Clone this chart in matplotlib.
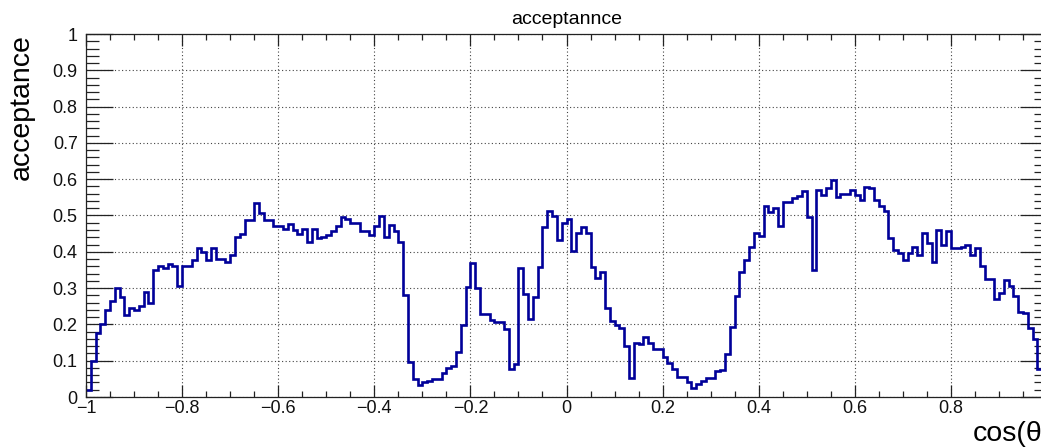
import matplotlib
matplotlib.use("Agg")
import matplotlib.pyplot as plt
import numpy as np
from matplotlib.ticker import MultipleLocator, FuncFormatter

# histogram: 0.01 wide bins starting at cos(theta) = -1 (last bin falls outside the picture)
BIN_LOW = -1.0
BIN_WIDTH = 0.01

acceptance = [
    0.020, 0.100, 0.175, 0.200, 0.240, 0.265, 0.300, 0.275, 0.225, 0.245,
    0.240, 0.250, 0.290, 0.260, 0.350, 0.360, 0.355, 0.367, 0.360, 0.307,
    0.360, 0.360, 0.378, 0.410, 0.400, 0.378, 0.410, 0.380, 0.380, 0.373,
    0.390, 0.442, 0.450, 0.488, 0.488, 0.534, 0.506, 0.488, 0.488, 0.470,
    0.470, 0.463, 0.477, 0.460, 0.450, 0.463, 0.428, 0.463, 0.437, 0.440,
    0.447, 0.456, 0.470, 0.497, 0.490, 0.480, 0.480, 0.456, 0.456, 0.447,
    0.470, 0.500, 0.440, 0.474, 0.456, 0.428, 0.281, 0.097, 0.050, 0.033,
    0.040, 0.044, 0.050, 0.050, 0.065, 0.080, 0.086, 0.123, 0.199, 0.304,
    0.370, 0.300, 0.228, 0.228, 0.212, 0.206, 0.206, 0.187, 0.077, 0.090,
    0.355, 0.283, 0.214, 0.275, 0.357, 0.467, 0.513, 0.500, 0.433, 0.479,
    0.490, 0.403, 0.451, 0.468, 0.451, 0.358, 0.327, 0.343, 0.244, 0.210,
    0.199, 0.190, 0.141, 0.053, 0.150, 0.146, 0.166, 0.148, 0.133, 0.131,
    0.111, 0.093, 0.077, 0.056, 0.056, 0.042, 0.024, 0.035, 0.044, 0.051,
    0.051, 0.072, 0.074, 0.118, 0.194, 0.278, 0.343, 0.378, 0.412, 0.453,
    0.444, 0.525, 0.509, 0.520, 0.470, 0.537, 0.537, 0.548, 0.554, 0.568,
    0.495, 0.350, 0.569, 0.557, 0.575, 0.598, 0.550, 0.560, 0.560, 0.569,
    0.557, 0.543, 0.578, 0.575, 0.543, 0.525, 0.513, 0.438, 0.405, 0.398,
    0.378, 0.398, 0.412, 0.390, 0.453, 0.424, 0.373, 0.460, 0.419, 0.456,
    0.410, 0.410, 0.413, 0.419, 0.390, 0.410, 0.360, 0.325, 0.325, 0.269,
    0.286, 0.321, 0.306, 0.279, 0.235, 0.231, 0.189, 0.159, 0.077,
]

TITLE = "acceptannce"
XLABEL = "cos(\u03b8)"
YLABEL = "acceptance"

LINE_COLOR = "#000099"
W, H, DPI = 1041, 448, 100

plt.rcParams["font.family"] = ["Liberation Sans", "DejaVu Sans"]


def root_fmt(v, pos):
    s = "%g" % round(v, 6)
    return s.replace("-", "\u2212")


def root_fmt_x(v, pos):
    # the "1" label sits past the cropped right edge in the reference
    if v > 0.99:
        return ""
    return root_fmt(v, pos)


fig = plt.figure(figsize=(W / DPI, H / DPI), dpi=DPI)
# frame runs a little past the right edge of the picture, as in the reference
ax = fig.add_axes([86 / W, (H - 397) / H, 961 / W, 363 / H])

edges = BIN_LOW + BIN_WIDTH * np.arange(len(acceptance) + 1)
ax.stairs(acceptance, edges, color=LINE_COLOR, linewidth=1.9, baseline=None)

ax.set_xlim(-1, 1)
ax.set_ylim(0, 1)

ax.xaxis.set_major_locator(MultipleLocator(0.2))
ax.xaxis.set_minor_locator(MultipleLocator(0.05))
ax.yaxis.set_major_locator(MultipleLocator(0.1))
ax.yaxis.set_minor_locator(MultipleLocator(0.02))
ax.xaxis.set_major_formatter(FuncFormatter(root_fmt_x))
ax.yaxis.set_major_formatter(FuncFormatter(root_fmt))

ax.tick_params(which="both", direction="in", top=True, right=True,
               width=0.9, colors="#222222", labelsize=13, labelcolor="#111111")
ax.tick_params(axis="x", which="major", length=8.5, pad=2)
ax.tick_params(axis="x", which="minor", length=4.5)
ax.tick_params(axis="y", which="major", length=19.5, pad=6)
ax.tick_params(axis="y", which="minor", length=9.5)

ax.grid(True, which="major", color="#444444", linestyle=(0, (1, 2.2)), linewidth=0.8)
ax.set_axisbelow(True)

for sp in ax.spines.values():
    sp.set_linewidth(0.9)
    sp.set_color("#222222")

ax.set_title(TITLE, fontsize=14, pad=7)
ax.set_ylabel(YLABEL, fontsize=20.5, loc="top")
ax.yaxis.set_label_coords(-0.053, 1.0)
ax.set_xlabel(XLABEL, fontsize=20.5, loc="right")
ax.xaxis.set_label_coords(1.005, -0.066)

fig.savefig("out.png", dpi=DPI)
